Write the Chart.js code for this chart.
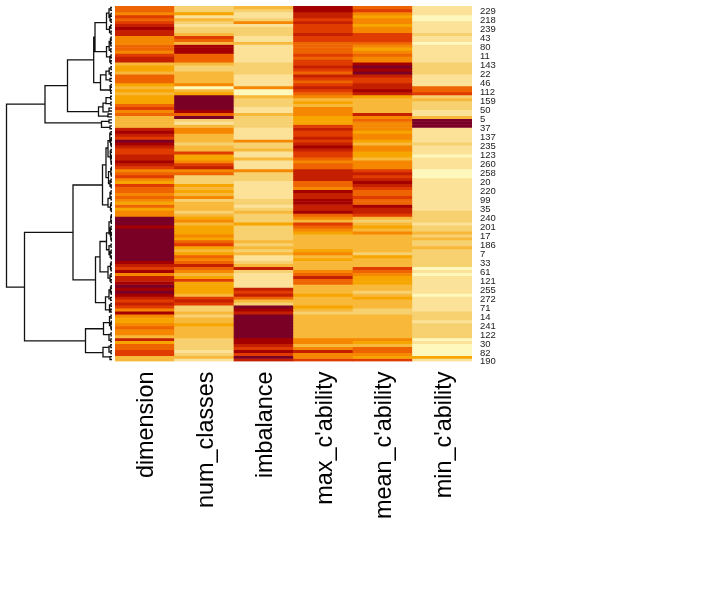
<!DOCTYPE html>
<html>
<head>
<meta charset="utf-8">
<title>Clustered heatmap</title>
<script src="https://cdn.jsdelivr.net/npm/chart.js@4/dist/chart.umd.min.js"></script>
<style>
  html, body { margin: 0; padding: 0; background: #fff; overflow: hidden; }
  body { position: relative; width: 708px; height: 616px; }
  canvas { position: absolute; display: block; }
  #tree { left: 0; top: 6px; }
  #heat { left: 115px; top: 6px; }
</style>
</head>
<body>
<canvas id="tree" width="112" height="355"></canvas>
<canvas id="heat" width="400" height="520"></canvas>
<script>
const categories = ["dimension", "num_classes", "imbalance", "max_c'ability", "mean_c'ability", "min_c'ability"];
const rowLabels = [229,218,239,43,80,11,143,22,46,112,159,50,5,37,137,235,123,260,258,20,220,99,35,240,201,17,186,7,33,61,121,255,272,71,14,241,122,30,82,190];

// Binned value of each row in each feature, 0 (lowest) to 10 (highest)
const dimension = [
  6,6,5,7,6,7,8,9,8,8, 5,5,5,6,6,5,7,8,8,3, 4,4,3,6,6,6,4,3,4,3, 4,4,4,6,7,5,6,3,3,3,
  3,8,9,8,7,10,9,8,7,7, 8,8,9,8,7,5,6,7,5,4, 7,6,6,5,6,5,4,6,4,5, 5,10,10,10,9,10,10,10,10,10,
  10,10,10,10,10,10,9,8,7,9, 5,8,8,9,10,9,10,9,8,7, 8,7,5,9,5,4,4,5,6,5, 5,3,8,4,6,6,7,7,3,3];
const numClasses = [
  2,2,4,1,3,2,1,2,2,3, 7,6,3,9,9,9,6,6,6,3, 2,2,3,3,3,3,5,0,3,4, 10,10,10,10,10,9,6,10,2,1,
  3,5,5,3,3,3,2,3,3,7, 4,4,5,7,8,5,6,2,2,2, 4,3,4,3,5,2,3,3,3,2, 3,4,5,3,4,4,4,5,4,6,
  7,4,3,4,6,5,6,8,6,5, 3,4,7,4,4,4,4,3,7,8, 7,2,2,3,2,3,3,4,3,3, 3,3,2,2,2,2,1,2,3,1];
const imbalance = [
  3,2,1,1,2,5,1,2,2,2, 1,1,3,1,1,1,1,1,1,2, 2,2,2,1,1,1,1,5,0,0, 3,2,2,2,1,1,3,2,2,2,
  2,1,1,1,1,5,2,2,3,1, 1,3,1,1,1,5,2,2,2,1, 1,1,1,1,1,2,2,1,2,3, 2,2,2,4,2,2,2,2,2,3,
  2,3,2,3,1,1,2,3,8,2, 1,1,1,1,1,8,7,8,6,3, 2,10,9,8,10,10,10,10,10,10, 10,10,9,9,8,7,9,7,10,8];
const maxCapability = [
  9,9,8,8,7,8,7,7,7,8, 7,7,6,6,6,6,7,6,7,7, 8,7,6,8,7,6,7,8,7,6, 5,3,4,3,5,5,5,4,4,4,
  7,8,7,7,8,7,8,9,8,7, 7,6,5,6,6,8,8,8,8,6, 6,5,9,8,8,9,9,8,8,9, 6,5,3,7,6,5,4,3,3,3,
  3,3,4,5,3,4,3,3,3,5, 6,8,6,6,3,3,3,4,3,3, 3,4,3,2,3,3,3,3,3,3, 3,3,5,5,3,5,8,5,5,7];
const meanCapability = [
  6,7,5,4,5,5,4,5,5,7, 7,7,6,5,4,5,6,5,5,9, 10,9,10,8,7,7,8,8,9,8, 4,3,3,3,3,3,8,5,6,5,
  5,5,4,5,5,4,3,5,5,4, 4,3,5,5,5,7,8,7,8,9, 8,7,6,6,7,6,6,9,8,8, 7,3,2,3,4,3,5,3,3,3,
  3,3,3,2,4,3,3,3,7,6, 5,4,4,4,3,3,2,3,4,3, 3,3,2,2,3,3,3,3,3,3, 3,3,5,4,3,6,6,5,4,7];
const minCapability = [
  1,1,1,0,0,1,1,1,1,2, 1,1,0,1,1,1,1,1,1,2, 2,2,2,1,1,1,1,6,6,7, 2,3,2,2,2,1,1,3,10,10,
  10,1,1,1,1,1,2,1,1,1, 0,1,1,1,1,0,0,0,1,1, 1,1,1,1,1,1,1,1,1,2, 2,2,2,1,2,2,3,2,3,2,
  2,3,2,2,2,2,2,2,0,1, 0,1,1,1,1,1,1,0,1,1, 1,1,1,2,2,2,1,2,2,2, 2,2,0,1,0,0,0,0,4,1];
const columns = [dimension, numClasses, imbalance, maxCapability, meanCapability, minCapability];
const palette = ["#FFF8BC","#FBE298","#F7D070","#F8B93A","#F7A500","#F58800","#EE6400","#E03C00","#C42000","#A50000","#7A0026"];

// Merges of the row dendrogram: [height, first row, first child height, second row, second child height]
const merges = [
  [10.55,33.2,6.7,95,8.75],
  [6.7,26.9,4.45,39.5,1.05], [4.45,18.2,1.83,35.7,1.35], [1.83,10.5,1.7,25.9,1.15],
  [1.7,5.6,.55,15.4,.55], [1.15,23.3,.6,28.4,.2], [1.35,34.1,.9,37.2,.4], [.9,32.8,.6,35.8,.3], [1.05,39,.3,41,.2],
  [.55,2.4,.3,7.9,.25], [.3,1,.12,3.8,.2], [.2,3,.1,5,.1], [.25,7,.14,9,.1],
  [.55,13.7,.28,17.2,.22], [.28,12,.16,15,.13], [.16,11,.1,13,.12], [.22,17,.1,19,.12],
  [.6,22,.28,25,.2], [.28,21,.1,23,.12], [.2,27,.1,29,.12], [.6,31,.14,33,.12],
  [8.75,76.5,3.9,113.2,2.65], [3.9,60.5,.95,92.6,1.65],
  [.95,53.7,.6,67.2,.4], [.6,48,.4,58,.35], [.4,45.5,.22,51,.18], [.22,43,.1,46,.13], [.13,45,.06,47,.07],
  [.18,49,.1,52,.11], [.11,51,.06,53,.07], [.35,56,.12,60,.2], [.12,55,.06,57,.07], [.2,59,.1,61,.08],
  [.4,65,.2,68,.15], [.2,63,.1,65,.1], [.15,67,.08,69,.07],
  [1.65,84.8,1.2,100.3,.65], [1.2,79.6,.55,89.9,.4],
  [.55,76.7,.3,82.4,.3], [.3,73,.12,77,.2], [.12,71,.06,73,.07], [.2,75,.1,78,.12], [.12,77,.07,79,.06],
  [.3,81,.1,84,.18], [.18,83,.09,85,.07], [.4,88,.15,92,.2], [.15,87,.08,89,.09], [.2,91,.1,93,.1],
  [.65,98.3,.3,102.7,.25], [.3,96,.15,99,.13], [.15,95,.08,97,.07], [.25,101,.1,103.5,.12],
  [2.65,109.1,.85,117.2,.9], [.85,107,.25,111.1,.3], [.25,105,.1,108,.12], [.12,107,.06,109,.07], [.3,111,.1,113,.12],
  [.9,115.4,.3,118.6,.2], [.3,115,.12,117,.1]
];
// Lowest merges, joining a neighbouring pair of rows: [height, centre row]
const leafPairs = [
  [.12,1],[.1,3],[.1,5],[.14,7],[.1,9],[.1,11],[.12,13],[.13,15],[.1,17],[.12,19],
  [.1,21],[.12,23],[.2,25],[.1,27],[.12,29],[.14,31],[.12,33],[.3,35],[.4,37],[.3,39],
  [.2,41],[.1,43],[.06,45],[.07,47],[.1,49],[.06,51],[.07,53],[.06,55],[.07,57],[.1,59],
  [.08,61],[.1,63],[.1,65],[.08,67],[.07,69],[.06,71],[.07,73],[.1,75],[.07,77],[.06,79],
  [.1,81],[.09,83],[.07,85],[.08,87],[.09,89],[.1,91],[.1,93],[.08,95],[.07,97],[.13,99],
  [.1,101],[.12,103],[.1,105],[.06,107],[.07,109],[.1,111],[.12,113],[.12,115],[.1,117],[.2,119]
];

// One polyline for the whole tree, with a gap after every bracket
const treePoints = [];
const gap = { x: NaN, y: NaN };
merges.forEach(([h, r1, h1, r2, h2]) => {
  treePoints.push({ x: h1, y: r1 }, { x: h, y: r1 }, { x: h, y: r2 }, { x: h2, y: r2 }, gap);
});
leafPairs.forEach(([h, c]) => {
  treePoints.push({ x: 0, y: c - .5 }, { x: h, y: c - .5 }, { x: h, y: c + .5 }, { x: 0, y: c + .5 }, gap);
});

const rowCount = dimension.length;
const labelStep = 3.03;
const labelStart = 1.95;

new Chart(document.getElementById("tree"), {
  type: "scatter",
  data: { datasets: [{ data: treePoints, showLine: true, spanGaps: false, pointRadius: 0, borderColor: "#111", borderWidth: 1.3, tension: 0, clip: false }] },
  options: {
    responsive: false, animation: false, events: [],
    layout: { padding: 0, autoPadding: false },
    plugins: { legend: { display: false }, tooltip: { enabled: false } },
    scales: {
      x: { type: "linear", display: false, reverse: true, min: 0, max: 11.2 },
      y: { type: "linear", display: false, reverse: true, min: 0, max: rowCount }
    }
  }
});

// Each row is a stacked dataset of unit bars, coloured by its value in each feature
const rowDatasets = dimension.map((_, i) => ({
  label: "row " + i,
  data: categories.map(() => 1),
  backgroundColor: columns.map(c => palette[c[i]]),
  borderWidth: 0,
  barPercentage: 1,
  categoryPercentage: 1
}));

new Chart(document.getElementById("heat"), {
  type: "bar",
  data: { labels: categories, datasets: rowDatasets },
  options: {
    responsive: false, animation: false, events: [],
    layout: { padding: 0, autoPadding: false },
    plugins: { legend: { display: false }, tooltip: { enabled: false } },
    scales: {
      x: {
        stacked: true,
        grid: { display: false, drawTicks: false },
        border: { display: false },
        afterFit: s => { s.height = 520 - 355.5; s.paddingLeft = 0; s.paddingRight = 0; s.paddingTop = 0; s.paddingBottom = 0; },
        ticks: { autoSkip: false, minRotation: 90, maxRotation: 90, padding: 10, labelOffset: 2, color: "#000", font: { family: "Liberation Sans", size: 23.4 } }
      },
      y: {
        stacked: true, position: "right", reverse: true, min: 0, max: rowCount,
        grid: { display: false, drawTicks: false },
        border: { display: false },
        afterFit: s => { s.width = 43; s.paddingTop = 0; s.paddingBottom = 0; s.paddingLeft = 0; s.paddingRight = 0; },
        afterBuildTicks: s => { s.ticks = rowLabels.map((_, i) => ({ value: labelStart + i * labelStep })); },
        ticks: { autoSkip: false, padding: 8, color: "#222", font: { family: "Liberation Sans", size: 9.5 }, callback: (v, i) => rowLabels[i] }
      }
    }
  }
});
</script>
</body>
</html>
